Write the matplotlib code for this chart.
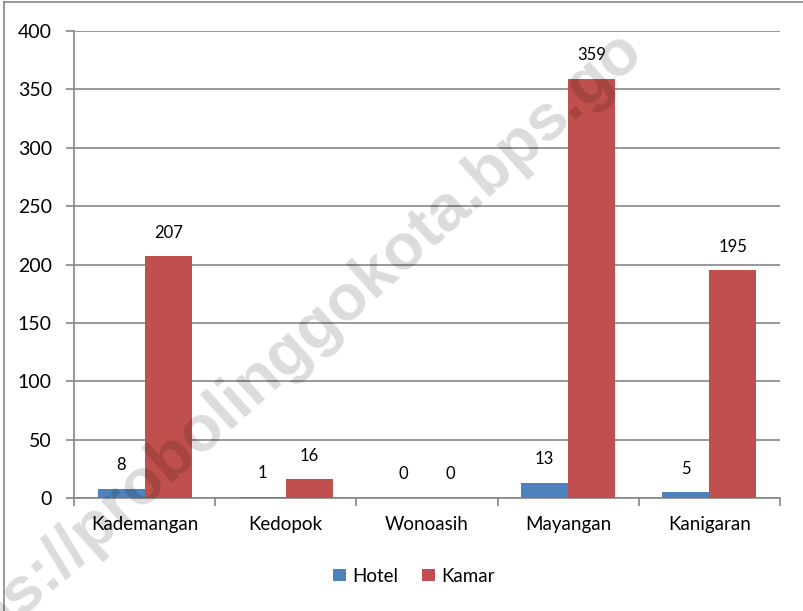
import matplotlib
matplotlib.use("Agg")
import matplotlib.pyplot as plt
import numpy as np

categories = ["Kademangan", "Kedopok", "Wonoasih", "Mayangan", "Kanigaran"]
hotel = [8, 1, 0, 13, 5]
kamar = [207, 16, 0, 359, 195]
yticks = [0, 50, 100, 150, 200, 250, 300, 350, 400]

plt.rcParams['font.family'] = ['Lato', 'DejaVu Sans']

fig = plt.figure(figsize=(8.04, 6.11), dpi=100)
W, H = 804, 611
ax = fig.add_axes([74 / W, 1 - 498 / H, (780 - 74) / W, (498 - 31) / H])

x = np.arange(len(categories))
bw = 1 / 3
blue = "#4F81BD"
red = "#C0504D"
b1 = ax.bar(x - bw / 2, hotel, bw, color=blue, label="Hotel", zorder=3)
b2 = ax.bar(x + bw / 2, kamar, bw, color=red, label="Kamar", zorder=3)

for rects, vals in ((b1, hotel), (b2, kamar)):
    for r, v in zip(rects, vals):
        ax.annotate(str(v), (r.get_x() + r.get_width() / 2, v), xytext=(0, 17),
                    textcoords="offset points", ha="center", va="center",
                    fontsize=12, color="#000000", zorder=4)

ax.set_xlim(-0.5, len(categories) - 0.5)
ax.set_ylim(0, 400)
ax.set_yticks(yticks)
ax.set_yticklabels([str(v) for v in yticks], fontsize=14)
ax.yaxis.grid(True, color="#868686", linewidth=1.2, zorder=0)
ax.set_axisbelow(True)
ax.set_xticks(x)
ax.set_xticklabels(categories, fontsize=13.5)
ax.tick_params(axis="x", length=0, pad=13)
ax.set_xticks(np.arange(-0.5, len(categories)), minor=True)
ax.tick_params(axis="x", which="minor", length=6, color="#868686", width=1.2)
ax.tick_params(axis="y", length=6, color="#868686", width=1.2, pad=10)
for s in ("top", "right"):
    ax.spines[s].set_visible(False)
for s in ("left", "bottom"):
    ax.spines[s].set_color("#868686")
    ax.spines[s].set_linewidth(1.2)

leg = fig.legend(handles=[b1, b2], labels=["Hotel", "Kamar"], loc="center",
                 bbox_to_anchor=(414 / W, 1 - 576 / H), ncol=2, frameon=False,
                 fontsize=13.5, handlelength=0.65, handleheight=0.65,
                 handletextpad=0.35, columnspacing=1.3)

# border (cropped at right/bottom)
fig.add_artist(plt.Line2D([4.5 / W, 4.5 / W], [0, 1 - 2 / H], color="#868686", lw=1.2,
                          transform=fig.transFigure))
fig.add_artist(plt.Line2D([4.5 / W, 1], [1 - 2 / H, 1 - 2 / H], color="#868686", lw=1.2,
                          transform=fig.transFigure))

# watermark
fig.text(645 / W, 1 - 53 / H, "https://probolinggokota.bps.go", rotation=42,
         rotation_mode="anchor", ha="right", va="baseline",
         fontsize=47, fontweight="bold", family="Liberation Sans",
         color="#000000", alpha=0.14, zorder=10)

fig.savefig("out.png", dpi=100)
